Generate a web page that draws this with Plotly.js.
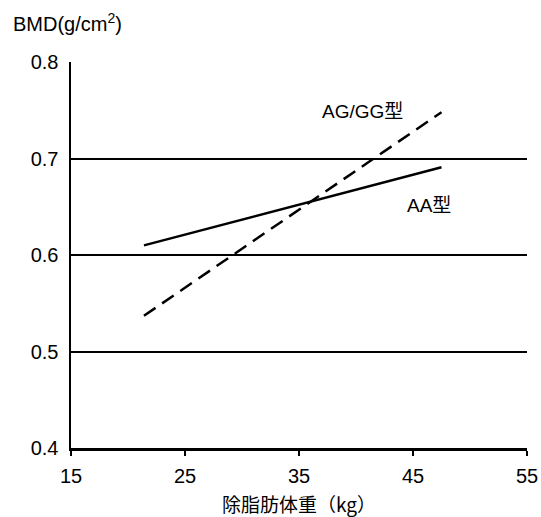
<!DOCTYPE html>
<html>
<head>
<meta charset="utf-8">
<script src="https://cdn.plot.ly/plotly-3.0.1.min.js"></script>
<style>html,body{margin:0;padding:0;background:#fff;}#chart{width:541px;height:517px;}</style>
</head>
<body>
<div id="chart"></div>
<script>
const xAA = [21.4, 47.5];
const yAA = [0.610, 0.691];
const xAG = [21.4, 47.5];
const yAG = [0.537, 0.748];
const xTicks = [15, 25, 35, 45, 55];
const yTicks = [0.4, 0.5, 0.6, 0.7, 0.8];
const seriesNames = ['AA型', 'AG/GG型'];

const font = '"Liberation Sans", Arial, "Noto Sans CJK JP", sans-serif';
const cjk = '"Liberation Sans", "Noto Sans CJK JP", sans-serif';

const traces = [
  {x: xAA, y: yAA, mode: 'lines', name: seriesNames[0], line: {color: '#000', width: 2.5, dash: 'solid'}},
  {x: xAG, y: yAG, mode: 'lines', name: seriesNames[1], line: {color: '#000', width: 2.5, dash: '14px,8px'}}
];

const layout = {
  width: 541, height: 517,
  margin: {l: 71, r: 14, t: 62, b: 69},
  paper_bgcolor: '#fff', plot_bgcolor: '#fff',
  showlegend: false,
  font: {family: font, color: '#000', size: 20},
  xaxis: {
    range: [15, 55], tickvals: xTicks, ticktext: xTicks.map(String),
    showgrid: false, zeroline: false,
    showline: true, linecolor: '#000', linewidth: 2.5,
    ticks: 'outside', ticklen: 5, tickwidth: 2, tickcolor: '#000',
    ticklabelstandoff: 3,
    tickfont: {size: 20, family: font},
    title: {text: '除脂肪体重（kg）', font: {size: 19, family: '"Noto Sans CJK JP", sans-serif'}, standoff: 18}
  },
  yaxis: {
    range: [0.4, 0.8], tickvals: yTicks, ticktext: yTicks.map(v => v.toFixed(1)),
    showgrid: true, gridcolor: '#000', gridwidth: 2, zeroline: false,
    showline: true, linecolor: '#000', linewidth: 2.5,
    ticks: '', ticklen: 0,
    ticklabelstandoff: 6,
    tickfont: {size: 20, family: font}
  },
  annotations: [
    {x: 40.6, y: 0.749, xref: 'x', yref: 'y', text: 'AG/GG型', showarrow: false, xanchor: 'center', yanchor: 'middle', font: {size: 19, family: cjk}},
    {x: 46.4, y: 0.651, xref: 'x', yref: 'y', text: 'AA型', showarrow: false, xanchor: 'center', yanchor: 'middle', font: {size: 19, family: cjk}},
    {x: 0, y: 1, xref: 'paper', yref: 'paper', xshift: -60, yshift: 40, text: 'BMD(g/cm<sup>2</sup>)', showarrow: false, xanchor: 'left', yanchor: 'middle', font: {size: 20, family: font}}
  ]
};

Plotly.newPlot('chart', traces, layout, {displayModeBar: false, staticPlot: true});
</script>
</body>
</html>
